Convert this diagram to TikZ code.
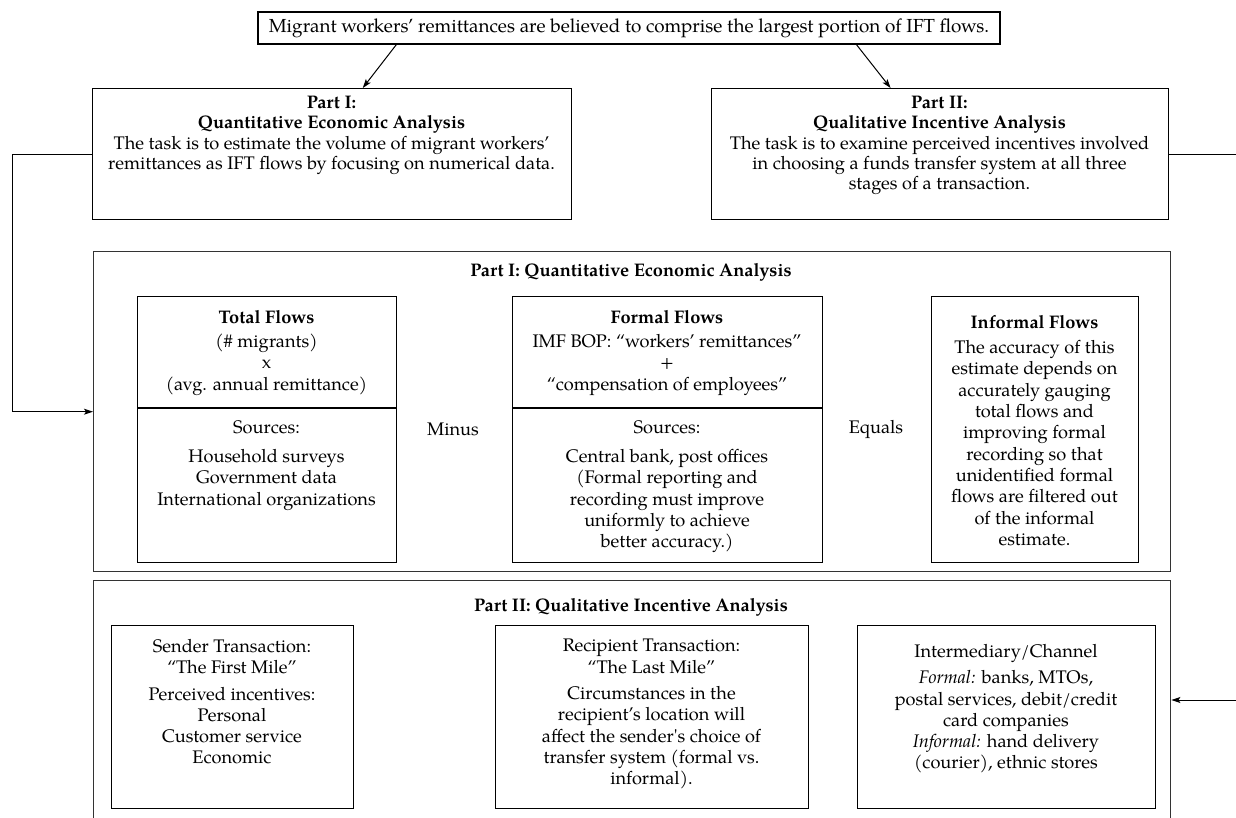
\documentclass[tikz,border=0pt]{standalone}
\usepackage{fontspec}
\setmainfont{texgyrepagella}[Extension=.otf, UprightFont=*-regular, BoldFont=*-bold, ItalicFont=*-italic, BoldItalicFont=*-bolditalic]
\usetikzlibrary{arrows.meta,calc}
\newcommand{\fsz}{\fontsize{18.2}{21.3}\selectfont}
\newcommand{\sq}{{\addfontfeatures{Ligatures=TeXOff}'}}
\begin{document}
\begin{tikzpicture}[x=1pt,y=-1pt,
  frame/.style={draw, line width=1.1pt, inner sep=0pt, anchor=north west},
  bigframe/.style={draw=black!80, line width=1.4pt, inner sep=0pt, anchor=north west},
  txt/.style={align=center, inner sep=0pt, anchor=north, font=\fsz},
  arr/.style={-{Stealth[length=9pt,width=6pt,inset=2pt]}, line width=1pt}]
\useasboundingbox (0,0) rectangle (1236,818);
\clip (0,0) rectangle (1236,818);

% top box
\node[draw, line width=1.1pt, font=\fontsize{18.9}{21.3}\selectfont, inner sep=0pt, minimum width=742pt, minimum height=32pt] (top) at (629,28)
  {Migrant workers’ remittances are believed to comprise the largest portion of IFT flows.};

% Part I / Part II small boxes
\node[frame, minimum width=479pt, minimum height=131pt] (p1) at (92,88) {};
\node[txt, font=\fontsize{18.2}{20.3}\selectfont] (p1t) at (331.5,96) {\textbf{Part I:}\\ \textbf{Quantitative Economic Analysis}\\
  The task is to estimate the volume of migrant workers’\\ remittances as IFT flows by focusing on numerical data.};
\node[frame, minimum width=457pt, minimum height=131pt] (p2) at (711,88) {};
\node[txt, font=\fontsize{18.2}{20.3}\selectfont] (p2t) at (939.5,96) {\textbf{Part II:}\\ \textbf{Qualitative Incentive Analysis}\\
  The task is to examine perceived incentives involved\\ in choosing a funds transfer system at all three\\ stages of a transaction.};

\draw[arr] ($(top.south west)!0.187!(top.south east)$) -- ($(p1.north west)!0.564!(p1.north east)$);
\draw[arr] ($(top.south west)!0.806!(top.south east)$) -- ($(p2.north west)!0.392!(p2.north east)$);

% Big Part I box
\node[bigframe, minimum width=1077pt, minimum height=320pt] (big1) at (93,251) {};
\node[txt] (big1t) at (631,263) {\textbf{Part I: Quantitative Economic Analysis}};

\node[frame, minimum width=259pt, minimum height=266pt] (tf) at (137,296) {};
\draw[line width=1.1pt] ($(tf.north west)+(0,112)$) -- ($(tf.north east)+(0,112)$);
\node[txt] (tft) at (266.5,310) {\textbf{Total Flows}\\[3pt] (\# migrants)\\ x\\ (avg. annual remittance)};
\node[txt] (tfs) at (266.5,420) {Sources:\\[8pt] Household surveys\\ Government data\\ International organizations};

\node[font=\fsz, inner sep=0pt] (minus) at (453,429) {Minus};

\node[frame, minimum width=310pt, minimum height=266pt] (ff) at (512,296) {};
\draw[line width=1.1pt] ($(ff.north west)+(0,112)$) -- ($(ff.north east)+(0,112)$);
\node[txt] (fft) at (667,310) {\textbf{Formal Flows}\\[3pt] IMF BOP: “workers’ remittances”\\ +\\ “compensation of employees”};
\node[txt] (ffs) at (667,420) {Sources:\\[8pt] Central bank, post offices\\ (Formal reporting and\\ recording must improve\\ uniformly to achieve\\ better accuracy.)};

\node[font=\fsz, inner sep=0pt] (equals) at (876,429) {Equals};

\node[frame, minimum width=207pt, minimum height=266pt] (inf) at (931,296) {};
\node[txt] (inft) at (1034.5,315) {\textbf{Informal Flows}\\[4pt] The accuracy of this\\ estimate depends on\\ accurately gauging\\ total flows and\\ improving formal\\ recording so that\\ unidentified formal\\ flows are filtered out\\ of the informal\\ estimate.};

% Big Part II box
\node[bigframe, minimum width=1077pt, minimum height=270pt] (big2) at (93,580) {};
\node[txt] (big2t) at (631,598) {\textbf{Part II: Qualitative Incentive Analysis}};

\node[frame, minimum width=242pt, minimum height=183pt] (snd) at (111,625) {};
\node[txt] (sndt) at (232,639) {Sender Transaction:\\ “The First Mile”\\[5pt] Perceived incentives:\\ Personal\\ Customer service\\ Economic};

\node[frame, minimum width=313pt, minimum height=183pt] (rcp) at (495,625) {};
\node[txt] (rcpt) at (651.5,639) {Recipient Transaction:\\ “The Last Mile”\\[5pt] Circumstances in the\\ recipient’s location will\\ affect the sender\sq s choice of\\ transfer system (formal vs.\\ informal).};

\node[frame, minimum width=298pt, minimum height=183pt] (itm) at (857,625) {};
\node[txt] (itmt) at (1006,644) {Intermediary/Channel\\[5pt] \textit{Formal:} banks, MTOs,\\ postal services, debit/credit\\ card companies\\ \textit{Informal:} hand delivery\\ (courier), ethnic stores};

% connectors
\draw[arr] (p1.west) -- ++(-80,0) |- (big1.west);
\draw[arr] (p2.east) -- ++(80,0) |- ($(big2.north east)+(0,120)$);
\end{tikzpicture}
\end{document}
